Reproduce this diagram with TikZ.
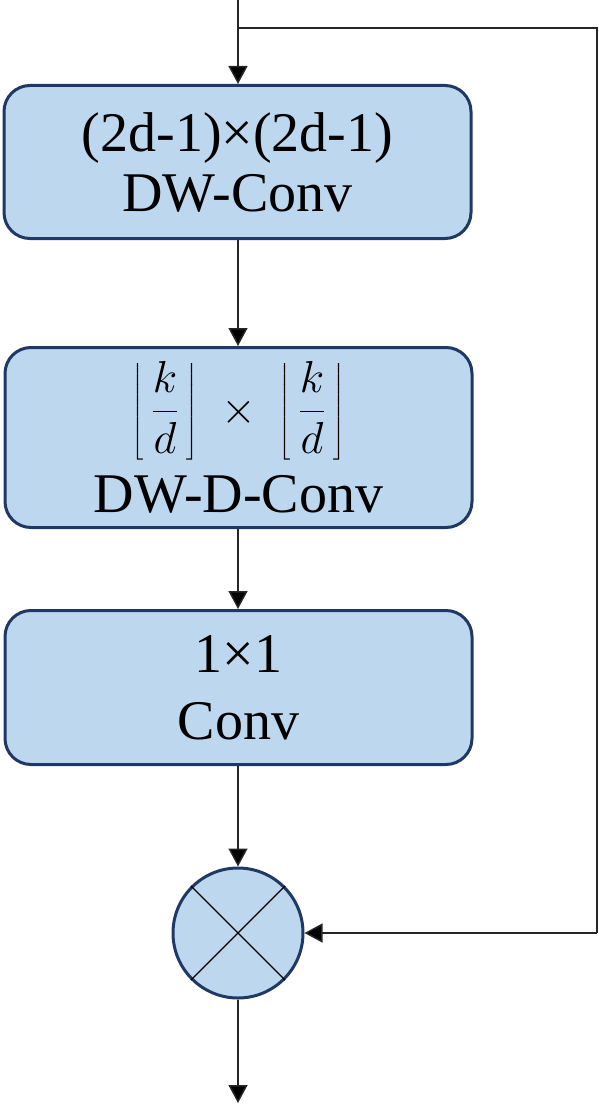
\documentclass[tikz,border=0pt]{standalone}
\usepackage{graphicx}
\usepackage{fontspec}
\setmainfont{Liberation Serif}
\usetikzlibrary{arrows.meta}
\definecolor{boxfill}{HTML}{BDD7EE}
\definecolor{boxline}{HTML}{1F3864}
\begin{document}
\begin{tikzpicture}[x=1pt,y=1pt,
  blk/.style={draw=boxline, fill=boxfill, line width=3pt, rounded corners=26pt,
    minimum width=467pt, align=center, font=\fontsize{56}{52}\selectfont, inner sep=0pt},
  conn/.style={line width=1.5pt, draw=black!85, -{Triangle[length=18pt,width=19pt,fill=black]}},
  wire/.style={line width=1.5pt, draw=black!85}
]
\useasboundingbox (0,0) rectangle (599,-1105);
\node[blk, minimum height=153pt, font=\fontsize{56}{60}\selectfont] (b1) at (237.5,-162) {(2d-1)×(2d-1)\\DW-Conv};
\node[blk, minimum height=180pt] (b2) at (238.5,-437.5) {\scalebox{1.8}{$\displaystyle\left\lfloor\,\frac{k}{d}\,\right\rfloor\;\times\;\left\lfloor\,\frac{k}{d}\,\right\rfloor$}\\[14pt]DW-D-Conv};
\node[blk, minimum height=154pt, font=\fontsize{56}{67}\selectfont] (b3) at (238.5,-687.5) {1×1\\Conv};
\node[circle, draw=boxline, fill=boxfill, line width=3pt, minimum size=130pt, inner sep=0pt] (m) at (238,-933) {};
\draw[line width=1.2pt] (m.45) -- (m.225);
\draw[line width=1.2pt] (m.135) -- (m.315);
\coordinate (top) at (238,0);
\coordinate (split) at (238,-28);
\coordinate (c1) at (597,-28);
\coordinate (c2) at (597,-933);
\coordinate (out) at (238,-1103);
\draw[conn] (top) -- (b1.north -| top);
\draw[wire] (split) -- (c1) -- (c2);
\draw[conn] (c2) -- (m.east);
\draw[conn] (b1.south -| top) -- (b2.north -| top);
\draw[conn] (b2.south -| top) -- (b3.north -| top);
\draw[conn] (b3.south -| top) -- (m.north);
\draw[conn] (m.south) -- (out);
\end{tikzpicture}
\end{document}
